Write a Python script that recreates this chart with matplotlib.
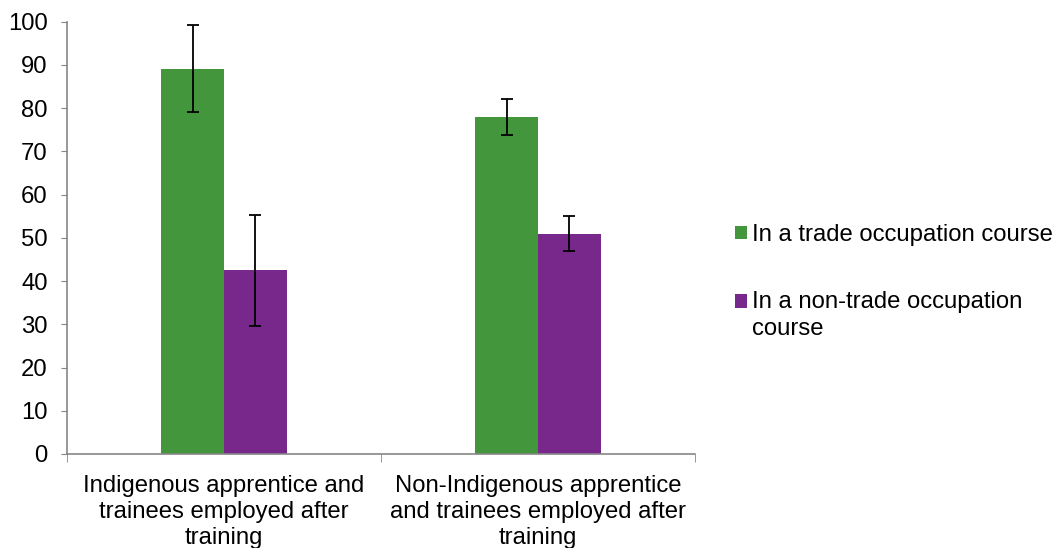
import matplotlib
matplotlib.use("Agg")
import matplotlib.pyplot as plt
from matplotlib.legend_handler import HandlerPatch
from matplotlib.patches import Rectangle
import numpy as np

plt.rcParams['font.family'] = ['Liberation Sans', 'DejaVu Sans']

categories = ["Indigenous apprentice and\ntrainees employed after\ntraining",
              "Non-Indigenous apprentice\nand trainees employed after\ntraining"]
series_names = ["In a trade occupation course", "In a non-trade occupation\ncourse"]
trade_vals = [89.1, 77.9]
trade_err_low = [79.1, 73.8]
trade_err_high = [99.3, 82.1]
nontrade_vals = [42.5, 50.9]
nontrade_err_low = [29.5, 47.0]
nontrade_err_high = [55.4, 55.0]
colors = ["#43963c", "#77288a"]

FS = 17.2

fig = plt.figure(figsize=(10.59, 5.48), dpi=100)
ax = fig.add_axes([67/1059, 94/548, (695-67)/1059, (454-21.7)/548])

x = np.arange(len(categories))
w = 0.2
series = [(trade_vals, trade_err_low, trade_err_high), (nontrade_vals, nontrade_err_low, nontrade_err_high)]
handles = []
for i, (vals, lo, hi) in enumerate(series):
    vals = np.array(vals); lo = np.array(lo); hi = np.array(hi)
    pos = x + (i - 0.5) * w
    b = ax.bar(pos, vals, width=w, color=colors[i], label=series_names[i], zorder=2)
    handles.append(b.patches[0])
    ax.errorbar(pos, vals, yerr=[vals - lo, hi - vals], fmt='none', ecolor='black',
                elinewidth=1.3, capsize=4, capthick=1.3, zorder=3)

ax.set_xlim(-0.5, 1.5)
ax.set_ylim(0, 100)
ax.set_yticks(np.arange(0, 101, 10))
ax.tick_params(axis='y', labelsize=FS, length=4, color='#868686', direction='out', pad=10)
ax.set_xticks(x)
ax.set_xticklabels(categories, fontsize=FS, linespacing=1.24)
ax.tick_params(axis='x', length=0, pad=15)
ax.set_xticks([-0.5, 0.5, 1.5], minor=True)
ax.tick_params(axis='x', which='minor', length=6, color='#868686')
for s in ['top', 'right']:
    ax.spines[s].set_visible(False)
for s in ['left', 'bottom']:
    ax.spines[s].set_color('#868686')
    ax.spines[s].set_linewidth(1.2)


def shifted_patch(legend, orig_handle, xdescent, ydescent, width, height, fontsize):
    return Rectangle((-xdescent, -ydescent + 0.6 * fontsize), width, height)


leg = fig.legend(handles=handles, labels=series_names, loc='upper left',
                 bbox_to_anchor=(735/1059, 1 - 224/548), frameon=False, fontsize=FS,
                 handlelength=0.5, handleheight=0.5, handletextpad=0.2,
                 labelspacing=1.87, borderaxespad=0, borderpad=0,
                 handler_map={handles[1]: HandlerPatch(patch_func=shifted_patch)})
for t in leg.get_texts():
    t.set_linespacing(1.31)

fig.savefig("out.png", dpi=100)
